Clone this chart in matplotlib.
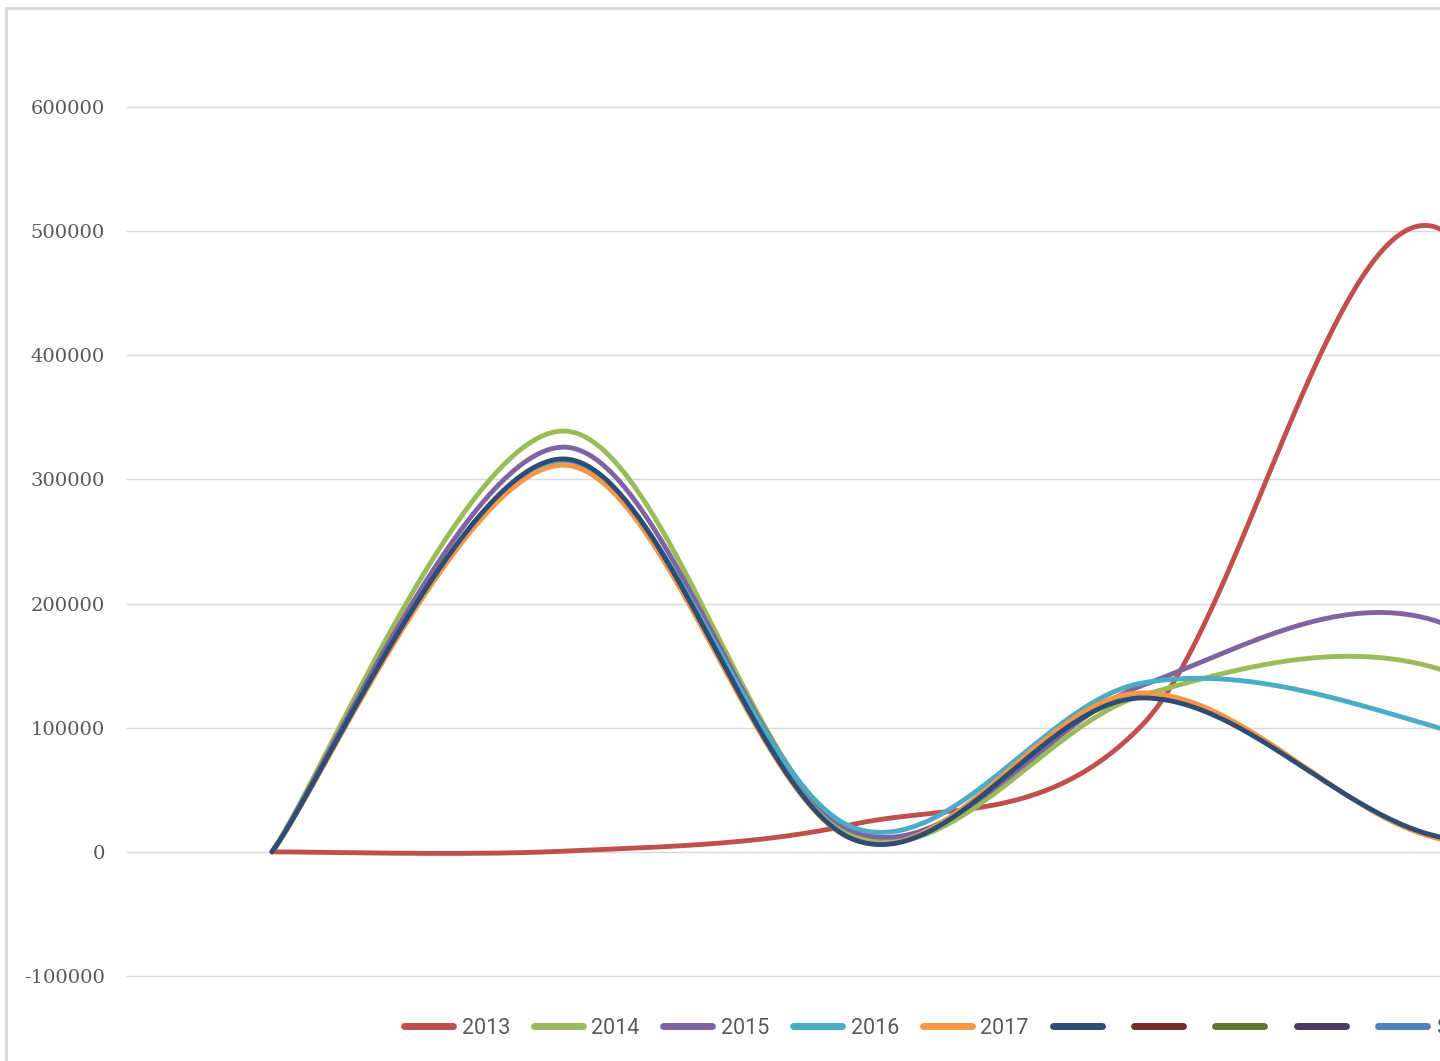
import numpy as np
import matplotlib.pyplot as plt
from matplotlib.patches import Rectangle

# category positions (the reference is cropped, only five of six are visible)
categories = [0, 1, 2, 3, 4, 5]

s2013 = [0, 500, 22000, 102000, 504000, 0]
s2014 = [0, 339000, 14500, 126000, 149000, 0]
s2015 = [0, 326000, 17000, 134000, 187000, 0]
s2016 = [0, 314000, 20000, 136000, 101500, 0]
s2017 = [0, 311500, 10500, 128000, 12000, 0]
s_extra = [0, 316500, 10500, 124000, 13500, 0]

series_names = ['2013', '2014', '2015', '2016', '2017', '', '', '', '', 'Series1']
series_values = [s2013, s2014, s2015, s2016, s2017, s_extra, [], [], [], []]
series_colors = ['#C0504D', '#9BBB59', '#8064A2', '#4BACC6', '#F79646',
                 '#2C4D75', '#772C2A', '#5F7530', '#4D3B62', '#4F81BD']

y_ticks = [-100000, 0, 100000, 200000, 300000, 400000, 500000, 600000]


def smooth_curve(xs, ys, n=80):
    # excel style smoothed line: bezier segments, control points from neighbours
    if len(ys) < 2:
        return np.array(xs, dtype=float), np.array(ys, dtype=float)
    P = np.column_stack([xs, ys]).astype(float)
    ext = np.vstack([P[0], P, P[-1]])
    m = (ext[2:] - ext[:-2]) / 2
    t = np.linspace(0, 1, n)[:, None]
    out = []
    for i in range(len(P) - 1):
        p0, p3 = P[i], P[i + 1]
        c1 = p0 + m[i] / 3
        c2 = p3 - m[i + 1] / 3
        seg = ((1 - t) ** 3) * p0 + 3 * ((1 - t) ** 2) * t * c1 + 3 * (1 - t) * t ** 2 * c2 + t ** 3 * p3
        out.append(seg if i == 0 else seg[1:])
    out = np.vstack(out)
    return out[:, 0], out[:, 1]


W, H = 1440, 1061
cat_w = 290  # pixel width of one category
fig = plt.figure(figsize=(W / 100, H / 100), dpi=100)

# chart area border (cropped on the right and bottom)
fig.patches.append(Rectangle((6.5 / W, -0.2), 2.0, (H - 8) / H + 0.2, transform=fig.transFigure,
                             fill=False, edgecolor='#D9D9D9', linewidth=2.0))

ax = fig.add_axes([127 / W, 85 / H, cat_w * len(categories) / W, 869 / H])
ax.set_xlim(-0.5, len(categories) - 0.5)
ax.set_ylim(-100000, 600000)
ax.set_yticks(y_ticks)
ax.set_yticklabels([str(v) for v in y_ticks], family='DejaVu Serif', fontsize=14, color='#595959')
ax.set_xticks([])
ax.tick_params(axis='y', length=0, pad=16)
ax.grid(axis='y', color='#D9D9D9', linewidth=1.0)
ax.set_axisbelow(True)
for gl in ax.get_ygridlines():
    gl.set_clip_on(False)
for sp in ax.spines.values():
    sp.set_visible(False)

handles = []
for name, vals, col in zip(series_names, series_values, series_colors):
    xs, ys = smooth_curve(categories[:len(vals)], vals)
    ln, = ax.plot(xs, ys, color=col, linewidth=3.5, solid_capstyle='round',
                  solid_joinstyle='round', label=name)
    handles.append(ln)

leg = fig.legend(handles=handles, labels=series_names, loc='center left',
                 bbox_to_anchor=(404 / W, 33 / H), ncol=len(handles), frameon=False,
                 borderpad=0, borderaxespad=0, handlelength=2.28, handletextpad=0.4,
                 columnspacing=1.1, prop={'family': ['Roboto', 'DejaVu Sans'], 'size': 15.5})
for t in leg.get_texts():
    t.set_color('#595959')
for lh in leg.get_lines():
    lh.set_linewidth(5)
    lh.set_solid_capstyle('round')

fig.savefig('out.png', dpi=100)
